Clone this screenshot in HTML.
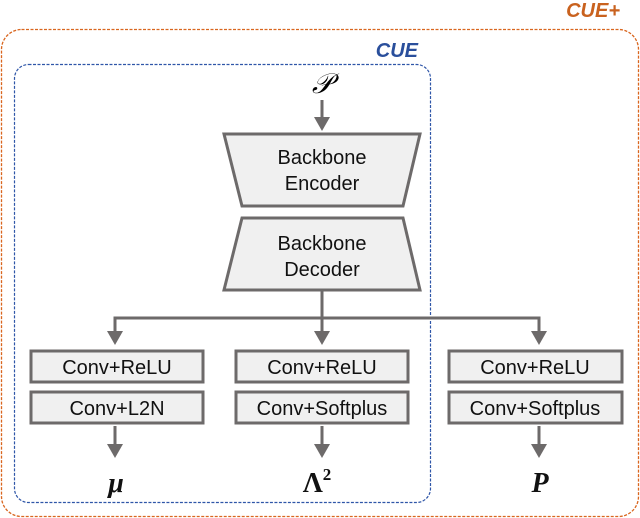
<!DOCTYPE html>
<html><head><style>
body{margin:0;background:#fff;width:640px;height:518px;overflow:hidden}
svg{display:block}
</style></head><body>
<svg width="640" height="518" viewBox="0 0 640 518" xmlns="http://www.w3.org/2000/svg" font-family="Liberation Sans, Arial, sans-serif">
<rect x="1.5" y="29.5" width="637" height="487" rx="20" fill="none" stroke="#d9661f" stroke-width="1.3" stroke-dasharray="3,1.5"/>
<text x="620" y="17" text-anchor="end" font-size="20" font-weight="bold" font-style="italic" fill="#c9621f">CUE+</text>
<rect x="14.5" y="64.5" width="416" height="438" rx="14" fill="none" stroke="#2f56a8" stroke-width="1.2" stroke-dasharray="3,1.5"/>
<text x="418" y="57" text-anchor="end" font-size="20" font-weight="bold" font-style="italic" fill="#2a4f9c">CUE</text>
<text x="322" y="93" text-anchor="middle" font-size="28" font-style="italic" font-family="Liberation Serif, serif">𝒫</text>
<g stroke="#6d6a6a" stroke-width="3" fill="none">
<line x1="322" y1="100" x2="322" y2="119"/>
<line x1="322" y1="290" x2="322" y2="335"/>
<polyline points="115,335 115,318 539,318 539,335"/>
<line x1="115" y1="426" x2="115" y2="446"/>
<line x1="322" y1="426" x2="322" y2="446"/>
<line x1="539" y1="426" x2="539" y2="446"/>
</g>
<g fill="#6d6a6a">
<polygon points="314,117 330,117 322,131"/>
<polygon points="107,331 123,331 115,345"/>
<polygon points="314,331 330,331 322,345"/>
<polygon points="531,331 547,331 539,345"/>
<polygon points="107,444 123,444 115,458"/>
<polygon points="314,444 330,444 322,458"/>
<polygon points="531,444 547,444 539,458"/>
</g>
<g fill="#f0f0f0" stroke="#6d6a6a" stroke-width="3">
<polygon points="224,134 420,134 403,206 242,206"/>
<polygon points="242,218 403,218 420,290 224,290"/>
<rect x="31" y="351" width="172" height="31"/>
<rect x="31" y="392" width="172" height="31"/>
<rect x="236" y="351" width="172" height="31"/>
<rect x="236" y="392" width="172" height="31"/>
<rect x="449" y="351" width="173" height="31"/>
<rect x="449" y="392" width="173" height="31"/>
</g>
<g font-size="20" text-anchor="middle" fill="#111">
<text x="322" y="164">Backbone</text>
<text x="322" y="190">Encoder</text>
<text x="322" y="250">Backbone</text>
<text x="322" y="276">Decoder</text>
<text x="117" y="374">Conv+ReLU</text>
<text x="117" y="415">Conv+L2N</text>
<text x="322" y="374">Conv+ReLU</text>
<text x="322" y="415">Conv+Softplus</text>
<text x="535" y="374">Conv+ReLU</text>
<text x="535" y="415">Conv+Softplus</text>
</g>
<g font-family="Liberation Serif, serif" font-weight="bold" font-size="28" text-anchor="middle" fill="#111">
<text x="116" y="492" font-style="italic">μ</text>
<text x="317" y="492">Λ<tspan font-size="17" dy="-12">2</tspan></text>
<text x="540" y="492" font-style="italic">P</text>
</g>
</svg>
</body></html>
